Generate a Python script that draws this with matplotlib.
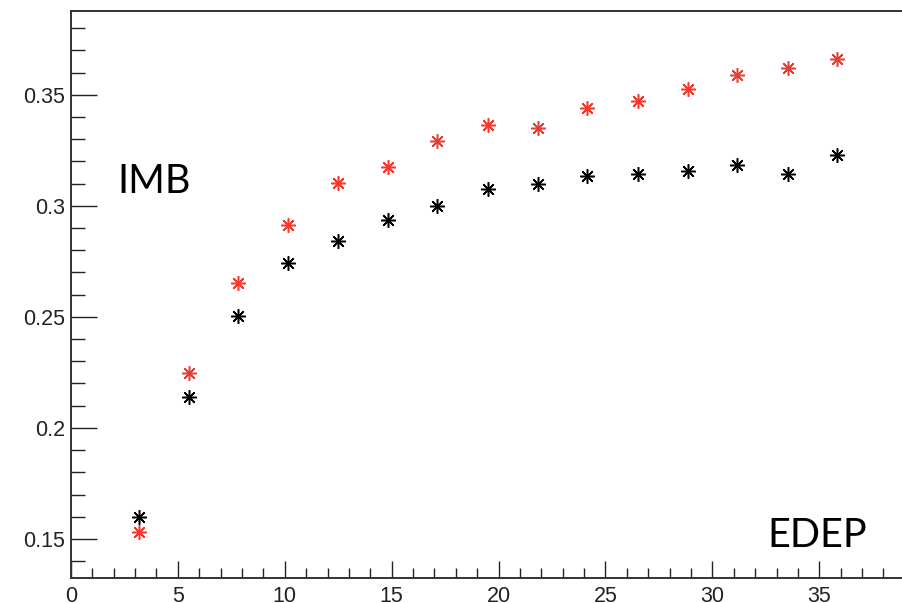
import matplotlib.pyplot as plt
from matplotlib.ticker import MultipleLocator

# data
edep = [3.20, 5.51, 7.82, 10.15, 12.51, 14.83, 17.14, 19.52, 21.83,
        24.15, 26.52, 28.84, 31.15, 33.52, 35.85]
imb_red = [0.1532, 0.2249, 0.2652, 0.2914, 0.3105, 0.3177, 0.3293, 0.3366,
           0.3353, 0.3441, 0.3474, 0.3527, 0.3590, 0.3623, 0.3662]
imb_black = [0.1600, 0.2140, 0.2505, 0.2742, 0.2841, 0.2936, 0.3001, 0.3077,
             0.3098, 0.3136, 0.3144, 0.3158, 0.3186, 0.3144, 0.3231]

plt.rcParams["font.family"] = ["Liberation Sans", "DejaVu Sans"]

fig = plt.figure(figsize=(9.03, 6.03), dpi=100)
ax = fig.add_axes([0.0786, 0.0415, 0.9214 + 0.002, 0.9403])

star = (8, 2, 0)
for ys, col in [(imb_black, "black"), (imb_red, "#ee3a2f")]:
    ax.plot(edep, ys, linestyle="none", marker=star, markersize=10.5,
            markeredgewidth=1.1, color=col)
    ax.plot(edep, ys, linestyle="none", marker="o", markersize=3.4,
            markeredgewidth=0, color=col)

ax.set_xlim(0, 39)
ax.set_ylim(0.1324, 0.3878)

ax.xaxis.set_major_locator(MultipleLocator(5))
ax.xaxis.set_minor_locator(MultipleLocator(1))
ax.yaxis.set_major_locator(MultipleLocator(0.05))
ax.yaxis.set_minor_locator(MultipleLocator(0.01))
ax.set_yticks([0.15, 0.2, 0.25, 0.3, 0.35])
ax.set_yticklabels(["0.15", "0.2", "0.25", "0.3", "0.35"])

ax.tick_params(axis="both", which="both", direction="in", color="#222222",
               width=1.0, labelsize=15.5, labelcolor="#222222")
ax.tick_params(axis="y", which="major", length=18.7, pad=4)
ax.tick_params(axis="y", which="minor", length=10)
ax.tick_params(axis="x", which="major", length=12.2, pad=6)
ax.tick_params(axis="x", which="minor", length=7.2)

for s in ["left", "bottom", "top"]:
    ax.spines[s].set_linewidth(1.4)
    ax.spines[s].set_color("#333333")
ax.spines["right"].set_visible(False)

ax.text(2.15, 0.311, "IMB", fontsize=28.5, family=["Lato", "DejaVu Sans"],
        ha="left", va="center")
ax.text(32.55, 0.1515, "EDEP", fontsize=28.5, family=["Lato", "DejaVu Sans"],
        ha="left", va="center")

fig.savefig("out.png", dpi=100)
